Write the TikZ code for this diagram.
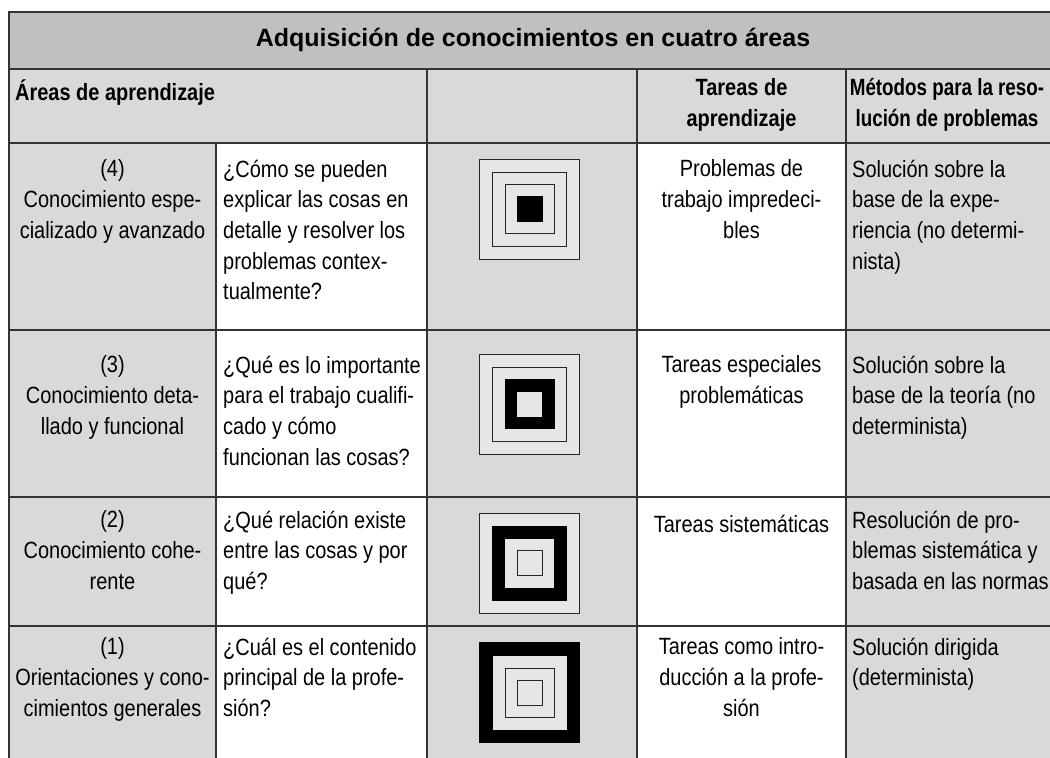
\documentclass[tikz,border=0pt]{standalone}
\usepackage{fontspec}
\setmainfont{Liberation Sans}[FakeStretch=0.85]
\newfontfamily\titlefont{Liberation Sans}
\newfontfamily\narrowfont{Liberation Sans}[FakeStretch=0.80]
\definecolor{cellgray}{HTML}{D9D9D9}
\definecolor{titlegray}{HTML}{C0C0C0}
\definecolor{sqlight}{HTML}{E6E6E6}
\definecolor{rulecol}{HTML}{333333}
\newcommand{\cellfont}{\fontsize{23.5}{30.7}\selectfont}
\begin{document}
\begin{tikzpicture}[x=1pt,y=-1pt,
  rulebox/.style={draw=rulecol, line width=1.4pt},
  sqbox/.style={draw=black!85, line width=1pt, inner sep=0pt, outer sep=0pt, minimum size=#1},
  lt/.style={sqbox=#1, fill=sqlight},
  bk/.style={sqbox=#1, fill=black, draw=black},
  cell/.style={font=\cellfont, inner sep=0pt, execute at begin node=\strut},
  ctext/.style={cell, align=center, anchor=north},
  ltext/.style={cell, align=left, anchor=north west},
  head/.style={font=\cellfont\bfseries, inner sep=0pt, execute at begin node=\strut}
]
\clip (0,0) rectangle (1050,758);
\fill[white] (0,0) rectangle (1050,758);
% backgrounds
\fill[titlegray] (9,12) rectangle (1057,69);
\fill[cellgray] (9,69) rectangle (1057,143);
\fill[cellgray] (9,143) rectangle (216,770);
\fill[cellgray] (427,143) rectangle (637,770);
\fill[cellgray] (846,143) rectangle (1057,770);
% squares row 4
\node[lt=100pt] (s4a) at (529.5,209) {};
\node[lt=74pt]  (s4b) at (529.5,209) {};
\node[lt=49pt]  (s4c) at (529.5,209) {};
\node[bk=25pt]  (s4d) at (529.5,209) {};
% squares row 3
\node[lt=100pt] (s3a) at (529.5,404) {};
\node[lt=74pt]  (s3b) at (529.5,404) {};
\node[bk=49pt]  (s3c) at (529.5,404) {};
\node[sqbox=25pt, fill=sqlight, draw=none] (s3d) at (529.5,404) {};
% squares row 2
\node[lt=100pt] (s2a) at (529.5,563) {};
\node[bk=74pt]  (s2b) at (529.5,563) {};
\node[sqbox=49pt, fill=sqlight, draw=none] (s2c) at (529.5,563) {};
\node[lt=25pt]  (s2d) at (529.5,563) {};
% squares row 1
\node[bk=100pt] (s1a) at (529.5,692.5) {};
\node[sqbox=74pt, fill=sqlight, draw=none] (s1b) at (529.5,692.5) {};
\node[lt=49pt]  (s1c) at (529.5,692.5) {};
\node[lt=25pt]  (s1d) at (529.5,692.5) {};
% grid
\draw[rulebox] (9,770) -- (9,12) -- (1057,12) -- (1057,770);
\draw[rulebox] (9,69) -- (1057,69);
\draw[rulebox] (9,143) -- (1057,143);
\draw[rulebox] (9,330) -- (1057,330);
\draw[rulebox] (9,497) -- (1057,497);
\draw[rulebox] (9,626) -- (1057,626);
\draw[rulebox] (216,143) -- (216,770);
\draw[rulebox] (427,69) -- (427,770);
\draw[rulebox] (637,69) -- (637,770);
\draw[rulebox] (846,69) -- (846,770);
% title
\node[font=\titlefont\fontsize{25}{30}\selectfont\bfseries, inner sep=0pt, anchor=base] (title) at (533,46) {Adquisición de conocimientos en cuatro áreas};
% header row
\node[head, anchor=north west, align=left] (hAreas) at (15,78.5) {Áreas de aprendizaje};
\node[head, anchor=north, align=center] (hTareas) at (741.5,78.5) {Tareas de\\aprendizaje};
\node[head, font=\narrowfont\cellfont\bfseries, anchor=north, align=center] (hMetodos) at (947,78.5) {Métodos para la reso-\\lución de problemas};
% row 4
\node[ctext] (a4) at (112.5,159.5) {(4)\\Conocimiento espe-\\cializado y avanzado};
\node[ltext] (q4) at (223,159.5) {¿Cómo se pueden\\explicar las cosas en\\detalle y resolver los\\problemas contex-\\tualmente?};
\node[ctext] (t4) at (741.5,159.5) {Problemas de\\trabajo impredeci-\\bles};
\node[ltext] (m4) at (852,159.5) {Solución sobre la\\base de la expe-\\riencia (no determi-\\nista)};
% row 3
\node[ctext] (a3) at (112.5,355.5) {(3)\\Conocimiento deta-\\llado y funcional};
\node[ltext] (q3) at (223,355.5) {¿Qué es lo importante\\para el trabajo cualifi-\\cado y cómo\\funcionan las cosas?};
\node[ctext] (t3) at (741.5,355.5) {Tareas especiales\\problemáticas};
\node[ltext] (m3) at (852,355.5) {Solución sobre la\\base de la teoría (no\\determinista)};
% row 2
\node[ctext] (a2) at (112.5,510.5) {(2)\\Conocimiento cohe-\\rente};
\node[ltext] (q2) at (223,510.5) {¿Qué relación existe\\entre las cosas y por\\qué?};
\node[ctext] (t2) at (741.5,510.5) {Tareas sistemáticas};
\node[ltext] (m2) at (852,510.5) {Resolución de pro-\\blemas sistemática y\\basada en las normas};
% row 1
\node[ctext] (a1) at (112.5,637.5) {(1)\\Orientaciones y cono-\\cimientos generales};
\node[ltext] (q1) at (223,637.5) {¿Cuál es el contenido\\principal de la profe-\\sión?};
\node[ctext] (t1) at (741.5,637.5) {Tareas como intro-\\ducción a la profe-\\sión};
\node[ltext] (m1) at (852,637.5) {Solución dirigida\\(determinista)};
\end{tikzpicture}
\end{document}
